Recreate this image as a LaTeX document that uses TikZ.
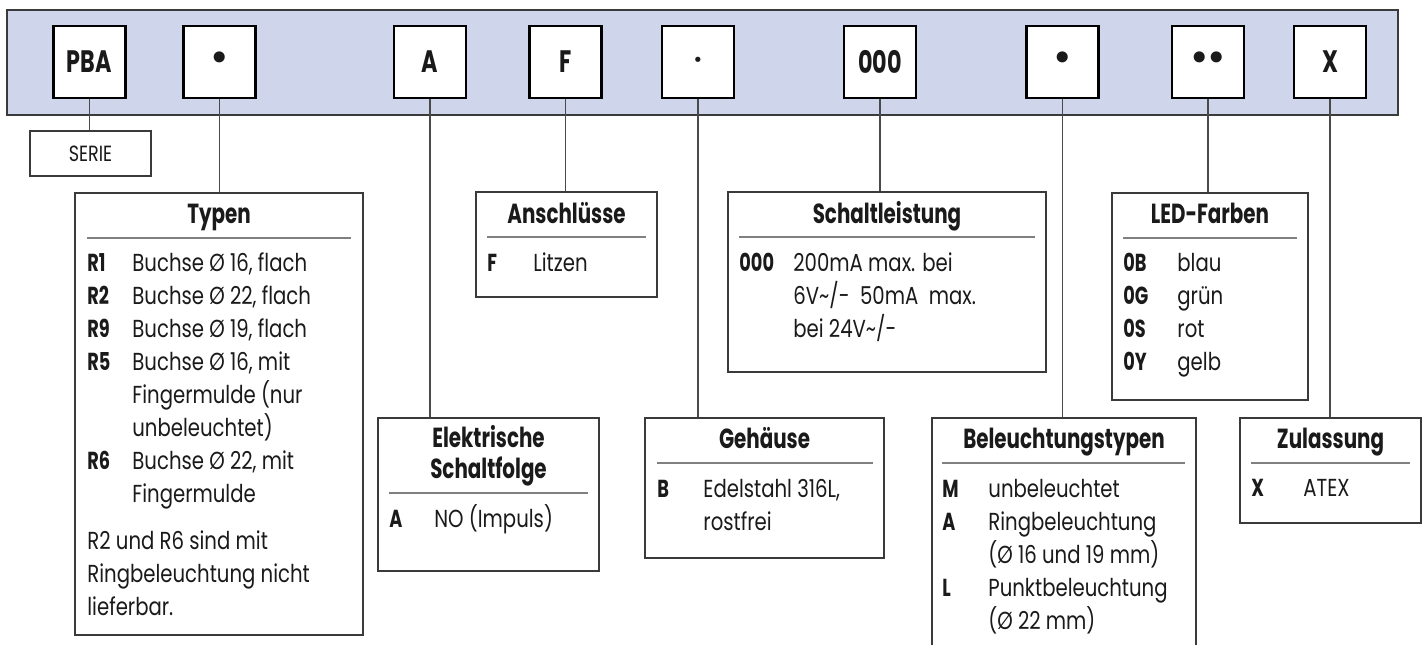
\documentclass[tikz,border=0pt]{standalone}
\usepackage{fontspec}
\setmainfont{Poppins}[FakeStretch=0.80, BoldFeatures={FakeStretch=0.72}]
\newfontfamily\dejavu{DejaVu Sans}
\usetikzlibrary{fit}
\definecolor{barfill}{HTML}{CFD5EA}
\definecolor{ink}{HTML}{1A1A1A}
\definecolor{boxline}{HTML}{3A3A3A}
\definecolor{connline}{HTML}{4A4A4A}
\definecolor{sepline}{HTML}{808080}
\newcommand\fbody{\fontsize{12.3}{16.5}\selectfont}
\newcommand\fbold{\bfseries\fontsize{12.3}{16.5}\selectfont}
\newcommand\ftitle{\bfseries\fontsize{13.8}{16}\selectfont}
\newcommand\fcodebox{\bfseries\fontsize{15.5}{18}\selectfont}
\newcommand\fserie{\fontsize{11}{13}\selectfont}
\begin{document}
\begin{tikzpicture}[x=0.5pt,y=-0.5pt,
  bar/.style={draw=boxline, fill=barfill, line width=0.6pt, inner sep=0},
  codebox/.style={draw=black, fill=white, line width=1.4pt, minimum width=36pt, minimum height=36pt, inner sep=0, font=\fcodebox, text=ink},
  infobox/.style={draw=boxline, fill=white, line width=0.7pt, inner sep=0},
  conn/.style={draw=connline, line width=0.6pt},
  sep/.style={draw=sepline, line width=0.6pt},
  code/.style={anchor=base west, inner sep=0, font=\fbold, text=ink},
  txt/.style={anchor=base west, inner sep=0, font=\fbody, text=ink},
  ttl/.style={anchor=base, inner sep=0, font=\ftitle, text=ink, align=center},
  bigdot/.style={font=\dejavu\fontsize{19}{20}\selectfont},
  smalldot/.style={font=\dejavu\fontsize{9}{10}\selectfont}
]
\useasboundingbox (0,0) rectangle (1424,644);
\clip (0,0) rectangle (1424,644);

% bar
\node[bar, fit={(7,10) (1398,115)}] (bar) {};

% code boxes
\node[codebox] (pba) at (89.5,62) {PBA};
\node[codebox, bigdot] (d1) at (219.5,62) {•};
\node[codebox] (ca) at (430,62) {A};
\node[codebox] (cf) at (565.5,62) {F};
\node[codebox, smalldot] (d2) at (698,62) {•};
\node[codebox] (c000) at (880,62) {000};
\node[codebox, bigdot] (d3) at (1062.5,62) {•};
\node[codebox, bigdot] (dd) at (1208,62) {•\kern-2.7pt•};
\node[codebox] (cx) at (1330,62) {X};

% SERIE
\node[infobox, fit={(30,131) (151,176)}] (serie) {};
\node[inner sep=0, font=\fserie, text=ink] (serie-t) at (serie.center) {SERIE};

% info boxes
\node[infobox, fit={(75,193) (363,635)}] (typen) {};
\node[infobox, fit={(476,192) (657,297)}] (ansch) {};
\node[infobox, fit={(728,192) (1046,372)}] (schalt) {};
\node[infobox, fit={(1112,193) (1308,400)}] (led) {};
\node[infobox, fit={(378,418) (599,571)}] (elek) {};
\node[infobox, fit={(645,418) (884,558)}] (geh) {};
\node[infobox, fit={(932,418) (1196,680)}] (bel) {};
\node[infobox, fit={(1240,418) (1421,523)}] (zul) {};

% connectors
\draw[conn] (pba.south) -- (pba.south |- serie.north);
\draw[conn] (d1.south) -- (d1.south |- typen.north);
\draw[conn] (ca.south) -- (ca.south |- elek.north);
\draw[conn] (cf.south) -- (cf.south |- ansch.north);
\draw[conn] (d2.south) -- (d2.south |- geh.north);
\draw[conn] (c000.south) -- (c000.south |- schalt.north);
\draw[conn] (d3.south) -- (d3.south |- bel.north);
\draw[conn] (dd.south) -- (dd.south |- led.north);
\draw[conn] (cx.south) -- (cx.south |- zul.north);

% Typen
\node[ttl] (typen-t) at (219,223) {Typen};
\draw[sep] (87,238) -- (351,238);
\node[code] (typen-c1) at (87,271.5) {R1};
\node[txt] (typen-x1) at (132,271.5) {Buchse Ø 16, flach};
\node[code] (typen-c2) at (87,304.5) {R2};
\node[txt] (typen-x2) at (132,304.5) {Buchse Ø 22, flach};
\node[code] (typen-c3) at (87,337.5) {R9};
\node[txt] (typen-x3) at (132,337.5) {Buchse Ø 19, flach};
\node[code] (typen-c4) at (87,370.5) {R5};
\node[txt] (typen-x4) at (132,370.5) {Buchse Ø 16, mit};
\node[txt] (typen-x5) at (132,403.5) {Fingermulde (nur};
\node[txt] (typen-x6) at (132,436.5) {unbeleuchtet)};
\node[code] (typen-c7) at (87,469.5) {R6};
\node[txt] (typen-x7) at (132,469.5) {Buchse Ø 22, mit};
\node[txt] (typen-x8) at (132,502.5) {Fingermulde};
\node[txt] (typen-n1) at (87,549.5) {R2 und R6 sind mit};
\node[txt] (typen-n2) at (87,582.5) {Ringbeleuchtung nicht};
\node[txt] (typen-n3) at (87,615.5) {lieferbar.};

% Anschluesse
\node[ttl] (ansch-t) at (566.5,223) {Anschlüsse};
\draw[sep] (487,237) -- (646,237);
\node[code] (ansch-c1) at (487,271.5) {F};
\node[txt] (ansch-x1) at (533,271.5) {Litzen};

% Schaltleistung
\node[ttl] (schalt-t) at (887,223) {Schaltleistung};
\draw[sep] (739,237) -- (1035,237);
\node[code] (schalt-c1) at (739,271.5) {000};
\node[txt] (schalt-x1) at (793,271.5) {200mA max. bei};
\node[txt] (schalt-x2) at (793,304.5) {6V\textasciitilde/-\ \ 50mA\ \ max.};
\node[txt] (schalt-x3) at (793,337.5) {bei 24V\textasciitilde/-};

% LED-Farben
\node[ttl] (led-t) at (1210,223) {LED-Farben};
\draw[sep] (1123,238) -- (1297,238);
\node[code] (led-c1) at (1123,271.5) {0B};
\node[txt] (led-x1) at (1177,271.5) {blau};
\node[code] (led-c2) at (1123,304.5) {0G};
\node[txt] (led-x2) at (1177,304.5) {grün};
\node[code] (led-c3) at (1123,337.5) {0S};
\node[txt] (led-x3) at (1177,337.5) {rot};
\node[code] (led-c4) at (1123,370.5) {0Y};
\node[txt] (led-x4) at (1177,370.5) {gelb};

% Elektrische Schaltfolge
\node[ttl] (elek-t1) at (488.5,447) {Elektrische};
\node[ttl] (elek-t2) at (488.5,478) {Schaltfolge};
\draw[sep] (389,493) -- (588,493);
\node[code] (elek-c1) at (389,527) {A};
\node[txt] (elek-x1) at (434,527) {NO (Impuls)};

% Gehaeuse
\node[ttl] (geh-t) at (764.5,448) {Gehäuse};
\draw[sep] (657,463) -- (873,463);
\node[code] (geh-c1) at (657,497) {B};
\node[txt] (geh-x1) at (703,497) {Edelstahl 316L,};
\node[txt] (geh-x2) at (703,530) {rostfrei};

% Beleuchtungstypen
\node[ttl] (bel-t) at (1064,448) {Beleuchtungstypen};
\draw[sep] (942,463) -- (1185,463);
\node[code] (bel-c1) at (942,497) {M};
\node[txt] (bel-x1) at (988,497) {unbeleuchtet};
\node[code] (bel-c2) at (942,530) {A};
\node[txt] (bel-x2) at (988,530) {Ringbeleuchtung};
\node[txt] (bel-x3) at (988,563) {(Ø 16 und 19 mm)};
\node[code] (bel-c4) at (942,596) {L};
\node[txt] (bel-x4) at (988,596) {Punktbeleuchtung};
\node[txt] (bel-x5) at (988,629) {(Ø 22 mm)};

% Zulassung
\node[ttl] (zul-t) at (1330.5,448) {Zulassung};
\draw[sep] (1251,463) -- (1410,463);
\node[code] (zul-c1) at (1251,496) {X};
\node[txt] (zul-x1) at (1303,496) {ATEX};
\end{tikzpicture}
\end{document}
